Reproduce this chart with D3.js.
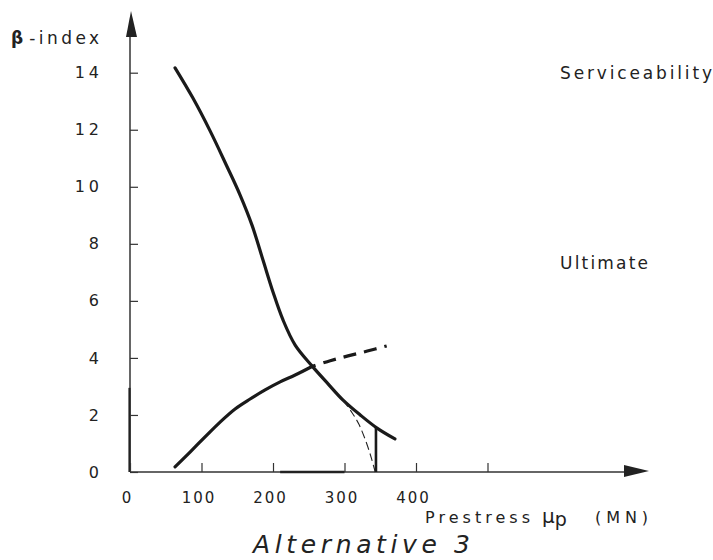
<!DOCTYPE html>
<html>
<head>
<meta charset="utf-8">
<script src="https://cdn.jsdelivr.net/npm/d3@7"></script>
<style>
  html, body { margin: 0; padding: 0; background: #fff; }
  svg { display: block; }
  text { font-family: "DejaVu Sans", sans-serif; fill: #222; }
</style>
</head>
<body>
<svg id="chart" width="713" height="560"></svg>
<script>
// Reliability index versus prestress force, alternative 3
const xTicks = [0, 100, 200, 300, 400, 500];
const xTickLabels = ["0", "100", "200", "300", "400", ""];
const yTicks = [0, 2, 4, 6, 8, 10, 12, 14];
const yTickLabels = ["0", "2", "4", "6", "8", "10", "12", "14"];

// Serviceability limit state (solid)
const serviceX = [63, 88, 112, 134, 154, 171, 186, 200, 214, 231, 254.5, 277, 298, 322, 345.5, 370.5];
const serviceY = [14.17, 13.11, 11.96, 10.8, 9.71, 8.63, 7.43, 6.31, 5.33, 4.45, 3.72, 3.09, 2.52, 2.0, 1.54, 1.16];

// Ultimate limit state (solid part, then dashed extension)
const ultimateX = [63, 84, 105, 126, 147, 168, 189, 210, 231, 254.5];
const ultimateY = [0.18, 0.7, 1.23, 1.75, 2.21, 2.56, 2.88, 3.16, 3.4, 3.7];
const ultimateExtX = [254.5, 280, 305, 332, 359];
const ultimateExtY = [3.7, 3.9, 4.07, 4.24, 4.42];

// Thin dashed branch falling to zero, and the vertical cut-off
const branchX = [298, 310, 320, 331, 338, 343];
const branchY = [2.52, 2.1, 1.68, 1.0, 0.45, 0];
const cutoffX = [344, 344];
const cutoffY = [0, 1.55];

// Heavier stretch along the prestress axis
const baseX = [210, 300];
const baseY = [0, 0];

const svg = d3.select("#chart");
const x = d3.scaleLinear().domain([0, 500]).range([130, 487.5]);
const y = d3.scaleLinear().domain([0, 14]).range([472, 72.7]);

const line = d3.line().x(d => x(d[0])).y(d => y(d[1])).curve(d3.curveCatmullRom.alpha(0.5));
const straight = d3.line().x(d => x(d[0])).y(d => y(d[1]));
const zip = (a, b) => a.map((v, i) => [v, b[i]]);

// Axes lines with arrowheads
svg.append("line").attr("x1", x(0)).attr("y1", y(0)).attr("x2", x(0)).attr("y2", 30)
  .attr("stroke", "#333").attr("stroke-width", 1.5);
svg.append("path").attr("d", "M131,11 L126,37 L137,37 Z").attr("fill", "#222");
svg.append("line").attr("x1", x(0)).attr("y1", y(0)).attr("x2", 630).attr("y2", y(0))
  .attr("stroke", "#333").attr("stroke-width", 1.5);
svg.append("path").attr("d", "M649,471 L624,465 L624,477 Z").attr("fill", "#222");

// Heavier y-axis stretch near the origin
svg.append("line").attr("x1", x(0) - 0.5).attr("x2", x(0) - 0.5).attr("y1", y(0)).attr("y2", y(2.95))
  .attr("stroke", "#222").attr("stroke-width", 2.2);

// Y axis ticks (pointing inward) and labels
const yAxis = d3.axisLeft(y).tickValues(yTicks).tickSizeInner(-8).tickSizeOuter(0)
  .tickPadding(27).tickFormat((d, i) => yTickLabels[i]);
const gy = svg.append("g").attr("transform", `translate(${x(0)},0)`).call(yAxis);
gy.select(".domain").remove();
gy.selectAll(".tick line").attr("stroke", "#333").attr("stroke-width", 1.2);
gy.selectAll(".tick text").attr("font-size", 16).attr("fill", "#222")
  .style("font-family", "DejaVu Sans, sans-serif").attr("letter-spacing", "4px");

// X axis ticks (pointing inward) and labels
const xAxis = d3.axisBottom(x).tickValues(xTicks).tickSizeInner(-9).tickSizeOuter(0)
  .tickPadding(20).tickFormat((d, i) => xTickLabels[i]);
const gx = svg.append("g").attr("transform", `translate(0,${y(0)})`).call(xAxis);
gx.select(".domain").remove();
gx.selectAll(".tick line").attr("stroke", "#333").attr("stroke-width", 1.2);
gx.selectAll(".tick text").attr("font-size", 15).attr("fill", "#222")
  .style("font-family", "DejaVu Sans, sans-serif").attr("letter-spacing", "2px").attr("dx", -3);

svg.append("path").datum(zip(baseX, baseY)).attr("d", straight)
  .attr("stroke", "#222").attr("stroke-width", 2.5).attr("fill", "none");

// Curves
svg.append("path").datum(zip(serviceX, serviceY)).attr("d", line)
  .attr("fill", "none").attr("stroke", "#1a1a1a").attr("stroke-width", 3.2).attr("stroke-linecap", "round");
svg.append("path").datum(zip(ultimateX, ultimateY)).attr("d", line)
  .attr("fill", "none").attr("stroke", "#1a1a1a").attr("stroke-width", 3.2).attr("stroke-linecap", "round");
svg.append("path").datum(zip(ultimateExtX, ultimateExtY)).attr("d", line)
  .attr("fill", "none").attr("stroke", "#1a1a1a").attr("stroke-width", 3.2)
  .attr("stroke-dasharray", "13,8").attr("stroke-dashoffset", -12);
svg.append("path").datum(zip(branchX, branchY)).attr("d", line)
  .attr("fill", "none").attr("stroke", "#222").attr("stroke-width", 1.1).attr("stroke-dasharray", "8,4");
svg.append("path").datum(zip(cutoffX, cutoffY)).attr("d", straight)
  .attr("fill", "none").attr("stroke", "#1a1a1a").attr("stroke-width", 2.6);

// Labels
const bl = svg.append("text").attr("x", 11).attr("y", 44).attr("font-size", 17);
bl.append("tspan").attr("font-weight", "bold").text("β");
bl.append("tspan").attr("dx", 6).attr("textLength", 70).attr("lengthAdjust", "spacing").text("-index");
svg.append("text").attr("x", 560).attr("y", 79).attr("font-size", 17)
  .attr("textLength", 152).attr("lengthAdjust", "spacing").text("Serviceability");
svg.append("text").attr("x", 560).attr("y", 269).attr("font-size", 17)
  .attr("textLength", 88).attr("lengthAdjust", "spacing").text("Ultimate");

const xl = svg.append("text").attr("x", 425).attr("y", 523).attr("font-size", 16);
xl.append("tspan").attr("textLength", 105).attr("lengthAdjust", "spacing").text("Prestress");
xl.append("tspan").attr("dx", 8).attr("font-size", 20).text("μ");
xl.append("tspan").attr("dy", 3).attr("font-size", 19).text("p");
xl.append("tspan").attr("dy", -3).attr("x", 595).attr("textLength", 53).attr("lengthAdjust", "spacing").text("(MN)");

svg.append("text").attr("x", 253).attr("y", 553).attr("font-size", 25).attr("font-style", "italic")
  .attr("textLength", 217).attr("lengthAdjust", "spacing").text("Alternative 3");
</script>
</body>
</html>
